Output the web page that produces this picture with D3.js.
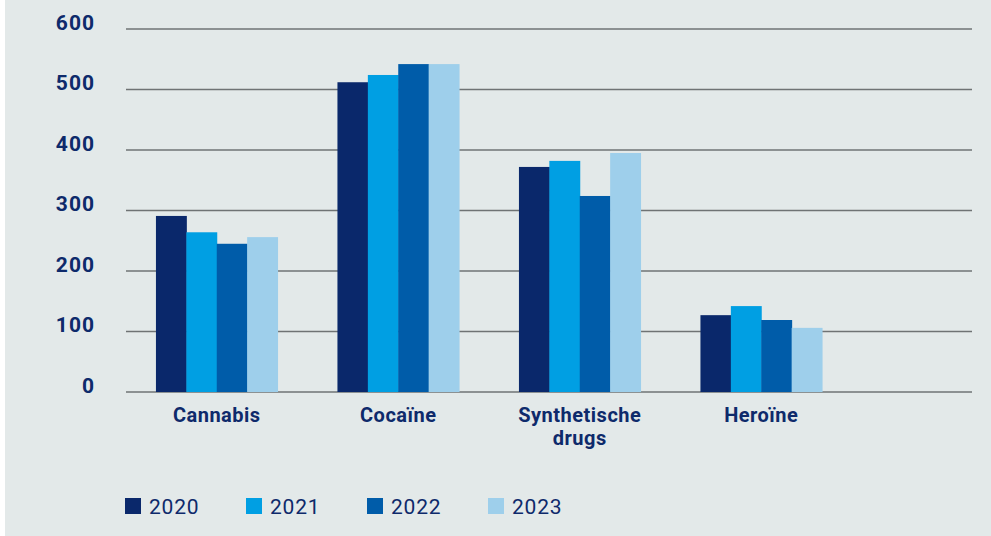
<!DOCTYPE html>
<html><head><meta charset="utf-8">
<script src="https://cdn.jsdelivr.net/npm/d3@7"></script>
<style>body{margin:0;background:#fff}svg{display:block}</style>
</head><body>
<svg id="c" width="991" height="536"></svg>
<script>
const categories = ["Cannabis", "Cocaïne", "Synthetische drugs", "Heroïne"];
const years = ["2020", "2021", "2022", "2023"];
const values2020 = [291, 512, 372, 127];
const values2021 = [264, 524, 382, 142];
const values2022 = [245, 542, 324, 119];
const values2023 = [256, 542, 395, 106];
const yTicks = [0, 100, 200, 300, 400, 500, 600];
const colors = ["#0a286b", "#009fe3", "#005ca9", "#9ecfeb"];
const series = [values2020, values2021, values2022, values2023];

const svg = d3.select("#c");
const textColor = "#0e2a6b";
svg.append("rect").attr("x", 5).attr("y", 0).attr("width", 986).attr("height", 536).attr("fill", "#e3e9e9");

const y = d3.scaleLinear().domain([0, 600]).range([392, 29]);
const x0 = d3.scaleBand().domain(categories).range([126, 852]).paddingInner(0.33).paddingOuter(0.165);
const x1 = d3.scaleBand().domain(years).range([0, x0.bandwidth()]);

const grid = svg.append("g");
grid.selectAll("line").data(yTicks).join("line")
  .attr("x1", 126).attr("x2", 972)
  .attr("y1", d => y(d)).attr("y2", d => y(d))
  .attr("stroke", "#6f7374").attr("stroke-width", 1.5);

const yAxis = d3.axisLeft(y).tickValues(yTicks).tickSize(0).tickPadding(0);
const ya = svg.append("g").attr("transform", "translate(95,0)").call(yAxis);
ya.select(".domain").remove();
ya.selectAll("text").attr("fill", textColor).attr("font-family", "Roboto").attr("font-weight", "bold")
  .attr("font-size", 21).attr("letter-spacing", 1).attr("dy", "0").attr("text-anchor", "end");

const groups = svg.append("g").selectAll("g").data(categories).join("g")
  .attr("transform", d => `translate(${x0(d)},0)`);
groups.selectAll("rect").data((d, i) => years.map((yr, j) => ({yr, v: series[j][i], c: colors[j]})))
  .join("rect")
  .attr("x", d => x1(d.yr)).attr("width", x1.bandwidth() + 0.5)
  .attr("y", d => y(d.v)).attr("height", d => y(0) - y(d.v))
  .attr("fill", d => d.c);

const xAxis = d3.axisBottom(x0).tickSize(0).tickPadding(0);
const xa = svg.append("g").attr("transform", "translate(0,422)").call(xAxis);
xa.select(".domain").remove();
xa.selectAll("text").attr("dy", 0).attr("fill", textColor).attr("font-family", "Roboto")
  .attr("font-weight", "bold").attr("font-size", 20).attr("letter-spacing", 0.5)
  .each(function(d) {
    const t = d3.select(this);
    const words = d.split(" ");
    t.text(null);
    words.forEach((w, i) => t.append("tspan").attr("x", 0).attr("dy", i === 0 ? 0 : 23).text(w));
  });

const legend = svg.append("g").selectAll("g").data(years).join("g")
  .attr("transform", (d, i) => `translate(${125 + i * 121},498)`);
legend.append("rect").attr("width", 16).attr("height", 16).attr("fill", (d, i) => colors[i]);
legend.append("text").attr("x", 24).attr("y", 15.5).text(d => d)
  .attr("fill", textColor).attr("font-family", "Roboto").attr("font-size", 21).attr("letter-spacing", 0.8);
</script>
</body></html>
